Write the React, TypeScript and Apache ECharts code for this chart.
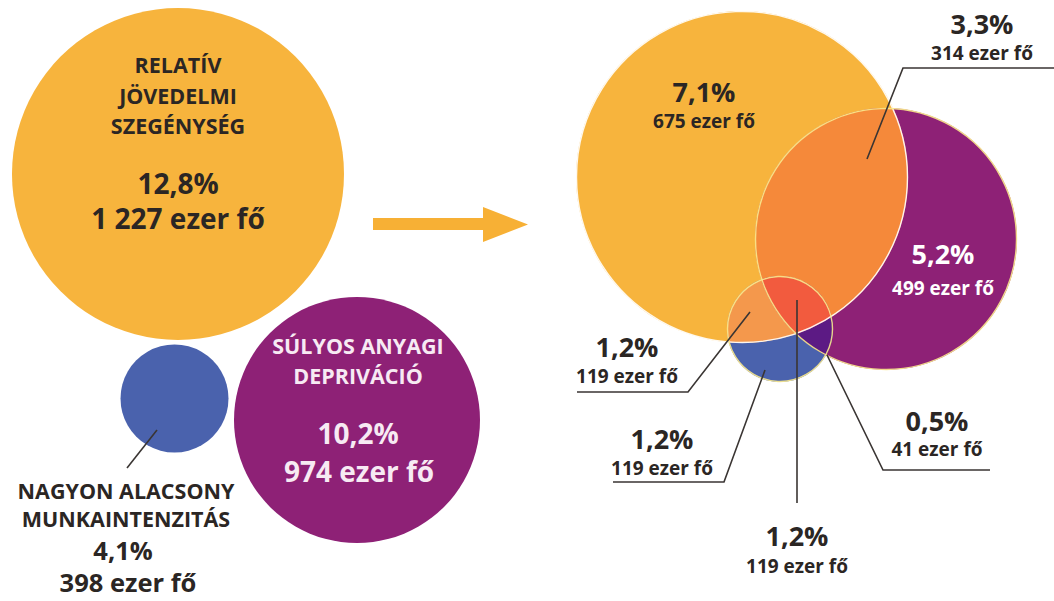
import React, { useEffect, useRef } from "react";
import * as echarts from "echarts";

const WIDTH = 1054;
const HEIGHT = 601;

// ---------------- data ----------------
const setNameLines = [
  ["RELATÍV", "JÖVEDELMI", "SZEGÉNYSÉG"],
  ["SÚLYOS ANYAGI", "DEPRIVÁCIÓ"],
  ["NAGYON ALACSONY", "MUNKAINTENZITÁS"],
];
const setShares = [12.8, 10.2, 4.1];
const setPeople = [1227, 974, 398];

// regions of the overlap diagram (0 = jövedelmi szegénység, 1 = anyagi depriváció, 2 = munkaintenzitás)
const regionSets = [[0], [0, 1], [1], [0, 2], [2], [0, 1, 2], [1, 2]];
const regionShares = [7.1, 3.3, 5.2, 1.2, 1.2, 1.2, 0.5];
const regionPeople = [675, 314, 499, 119, 119, 119, 41];

// ---------------- layout & style (diagram coordinates) ----------------
const setColors = ["#F7B43D", "#8E2176", "#4A62AD"];
const leftCircles = [
  [178, 174, 166],
  [357, 420, 123],
  [174.5, 398.5, 54],
];
const rightCircles = [
  [742, 177, 166],
  [886, 239, 131],
  [780, 329, 53],
];
const overlapOrder = [1, 3, 6, 5]; // region indexes drawn on top of the base circles
const overlapColors = ["", "#F5893A", "", "#F4984C", "", "#F25B3E", "#5C1A84"];
const outlineColors = ["#FFFFFF", "#F9E98C", "#F9E98C"];

const DARK = "#2B2624";
const LIGHT = "#F7EAF3";
const FONT = "'Open Sans', 'Noto Sans', sans-serif";

// left panel labels: [x, firstLineY, lineStep, pctX, pctY, peopleX, peopleY]
const setLabelPos = [
  [178, 64.5, 30.5, 178, 183, 178, 218],
  [358, 345, 30, 358, 433, 359, 471],
  [126, 490, 28, 123, 550, 128, 582],
];
const setLabelColor = [DARK, LIGHT, DARK];
const setPctSize = [28, 28, 25.5];
const leftLeaders = [[[157, 430], [127, 468]]];

// right panel labels: [x, pctY, peopleY]
const regionLabelPos = [
  [704, 91, 121],
  [982, 23, 53],
  [943, 253, 288],
  [627, 346, 376],
  [662, 438, 468],
  [797, 535, 566],
  [937, 420, 449],
];
const regionLabelColor = [DARK, DARK, "#FFFFFF", DARK, DARK, DARK, DARK];
const rightLeaders = [
  [[1054, 68], [903, 68], [867, 159]],
  [[577, 392], [688, 392], [750, 312]],
  [[613, 482], [724, 482], [765, 370]],
  [[797, 503], [797, 300]],
  [[990, 470], [883, 470], [827, 355]],
];
const arrowShape = [
  [373, 218], [483, 218], [483, 207], [528, 224.5], [483, 242], [483, 230], [373, 230],
];

// ---------------- helpers ----------------
const fmtPct = (v: number) => v.toFixed(1).replace(".", ",") + "%";
const fmtPeople = (n: number) => {
  const s = n >= 1000 ? Math.floor(n / 1000) + " " + String(n % 1000).padStart(3, "0") : String(n);
  return s + " ezer fő";
};

type C = { x: number; y: number; r: number };

function intersectionPolygon(circles: C[]): number[][] {
  const pts: number[][] = [];
  const N = 900;
  circles.forEach((c, i) => {
    for (let k = 0; k < N; k++) {
      const a = (2 * Math.PI * k) / N;
      const px = c.x + c.r * Math.cos(a);
      const py = c.y + c.r * Math.sin(a);
      const inside = circles.every(
        (o, j) => j === i || Math.hypot(px - o.x, py - o.y) <= o.r + 1e-6
      );
      if (inside) pts.push([px, py]);
    }
  });
  if (!pts.length) return pts;
  const cx = pts.reduce((s, p) => s + p[0], 0) / pts.length;
  const cy = pts.reduce((s, p) => s + p[1], 0) / pts.length;
  pts.sort((a, b) => Math.atan2(a[1] - cy, a[0] - cx) - Math.atan2(b[1] - cy, b[0] - cx));
  return pts;
}

function textEl(text: string, x: number, y: number, size: number, color: string) {
  return {
    type: "text",
    style: {
      text,
      x,
      y,
      fill: color,
      fontSize: size,
      fontWeight: "bold",
      fontFamily: FONT,
      align: "center",
      verticalAlign: "middle",
    },
  };
}

export default function App() {
  const ref = useRef<HTMLDivElement>(null);

  useEffect(() => {
    document.body.style.margin = "0";
    if (!ref.current) return;
    const chart = echarts.init(ref.current, undefined, { renderer: "svg" });

    const pxCircle = (api: any, c: number[]): C => {
      const p = api.coord([c[0], c[1]]);
      return { x: p[0], y: p[1], r: api.size([c[2], 0])[0] };
    };

    const option: any = {
      animation: false,
      tooltip: { show: false },
      grid: { left: 0, right: 0, top: 0, bottom: 0 },
      xAxis: { type: "value", min: 0, max: WIDTH, show: false },
      yAxis: { type: "value", min: 0, max: HEIGHT, inverse: true, show: false },
      series: [
        // base circles, both panels
        {
          type: "custom",
          silent: true,
          clip: false,
          data: [...leftCircles, ...rightCircles],
          renderItem: (params: any, api: any) => {
            const i = params.dataIndex;
            const c = pxCircle(api, [api.value(0), api.value(1), api.value(2)]);
            return {
              type: "circle",
              shape: { cx: c.x, cy: c.y, r: c.r },
              style: { fill: setColors[i % 3] },
            };
          },
        },
        // overlaps of the right panel
        {
          type: "custom",
          silent: true,
          clip: false,
          data: overlapOrder.map((r) => [rightCircles[regionSets[r][0]][0], rightCircles[regionSets[r][0]][1], r]),
          renderItem: (params: any, api: any) => {
            const r = api.value(2);
            const circles = regionSets[r].map((s) => pxCircle(api, rightCircles[s]));
            return {
              type: "polygon",
              shape: { points: intersectionPolygon(circles) },
              style: { fill: overlapColors[r] },
            };
          },
        },
        // outlines of the right panel
        {
          type: "custom",
          silent: true,
          clip: false,
          data: rightCircles,
          renderItem: (params: any, api: any) => {
            const i = params.dataIndex;
            const c = pxCircle(api, [api.value(0), api.value(1), api.value(2)]);
            return {
              type: "circle",
              shape: { cx: c.x, cy: c.y, r: c.r - 0.5 },
              style: { fill: "none", stroke: outlineColors[i], lineWidth: 1.4, opacity: 0.9 },
            };
          },
        },
        // arrow
        {
          type: "custom",
          silent: true,
          clip: false,
          data: [arrowShape[0]],
          renderItem: (params: any, api: any) => ({
            type: "polygon",
            shape: { points: arrowShape.map((p) => api.coord(p)) },
            style: { fill: "#F7B035" },
          }),
        },
        // leader lines
        {
          type: "custom",
          silent: true,
          clip: false,
          data: [...leftLeaders, ...rightLeaders].map((l) => l[0]),
          renderItem: (params: any, api: any) => {
            const l = [...leftLeaders, ...rightLeaders][params.dataIndex];
            return {
              type: "polyline",
              shape: { points: l.map((p) => api.coord(p)) },
              style: { fill: "none", stroke: "#3A3533", lineWidth: 1.6 },
            };
          },
        },
        // left panel labels
        {
          type: "custom",
          silent: true,
          clip: false,
          data: setLabelPos.map((p) => [p[0], p[1]]),
          renderItem: (params: any, api: any) => {
            const i = params.dataIndex;
            const p = setLabelPos[i];
            const col = setLabelColor[i];
            const children: any[] = setNameLines[i].map((line, k) => {
              const q = api.coord([p[0], p[1] + k * p[2]]);
              return textEl(line, q[0], q[1], 21.5, col);
            });
            const a = api.coord([p[3], p[4]]);
            const b = api.coord([p[5], p[6]]);
            children.push(textEl(fmtPct(setShares[i]), a[0], a[1], setPctSize[i], col));
            children.push(textEl(fmtPeople(setPeople[i]), b[0], b[1], setPctSize[i], col));
            return { type: "group", children };
          },
        },
        // right panel labels
        {
          type: "custom",
          silent: true,
          clip: false,
          data: regionLabelPos.map((p) => [p[0], p[1]]),
          renderItem: (params: any, api: any) => {
            const i = params.dataIndex;
            const p = regionLabelPos[i];
            const col = regionLabelColor[i];
            const a = api.coord([p[0], p[1]]);
            const b = api.coord([p[0], p[2]]);
            return {
              type: "group",
              children: [
                textEl(fmtPct(regionShares[i]), a[0], a[1], 27, col),
                textEl(fmtPeople(regionPeople[i]), b[0], b[1], 19, col),
              ],
            };
          },
        },
      ],
    };

    chart.setOption(option);
    return () => chart.dispose();
  }, []);

  return (
    <div
      ref={ref}
      style={{ position: "fixed", left: 0, top: 0, width: WIDTH, height: HEIGHT, background: "#FFFFFF" }}
    />
  );
}
